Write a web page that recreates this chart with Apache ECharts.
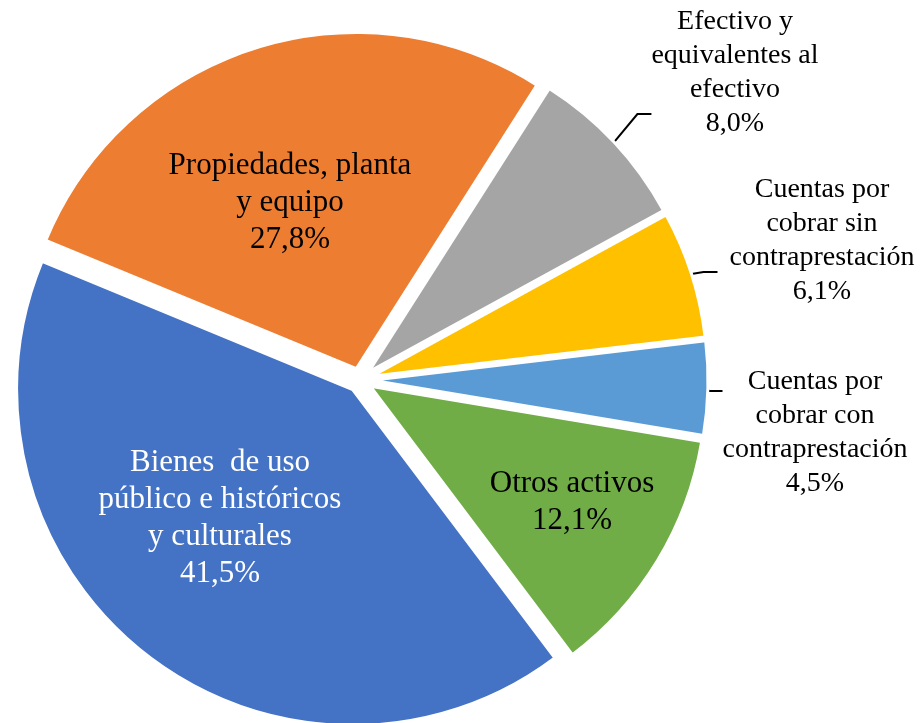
<!DOCTYPE html>
<html>
<head>
<meta charset="utf-8">
<script src="https://cdn.jsdelivr.net/npm/echarts@6/dist/echarts.min.js"></script>
<style>
  html, body { margin: 0; padding: 0; background: #fff; }
  #chart { width: 922px; height: 723px; }
</style>
</head>
<body>
<div id="chart"></div>
<script>
// slices in clockwise order starting at ~32 deg from 12 o'clock
const names = [
  'Efectivo y\nequivalentes al\nefectivo',
  'Cuentas por\ncobrar sin\ncontraprestación',
  'Cuentas por\ncobrar con\ncontraprestación',
  'Otros activos',
  'Bienes  de uso\npúblico e históricos\ny culturales',
  'Propiedades, planta\ny equipo'
]
const values = [8.0, 6.1, 4.5, 12.1, 41.5, 27.8]
const percentLabels = ['8,0%', '6,1%', '4,5%', '12,1%', '41,5%', '27,8%']
const colors = ['#A5A5A5', '#FFC000', '#5B9BD5', '#70AD47', '#4472C4', '#ED7D31']
const outside = [true, true, true, false, false, false]

// label anchors (px): outside labels are top-aligned, inside ones centred.
// padding moves the middle/left of the label box, where the leader line ends
const labelPos = [[735, 5], [816, 173], [815, 281], [572, 502], [220, 518], [290, 203]]
const labelPad = [[0, 0, 82, 0], [0, 0, 62, 12], [84, 0, 0, 0], 0, 0, 0]
const textColors = ['#000', '#000', '#000', '#000', '#fff', '#000']

const FONT = '"Liberation Serif", "Times New Roman", serif'
const CENTER = [360, 380]
const RADIUS = 336
const EXPLODE = 12
const START = 57.5

const chart = echarts.init(document.getElementById('chart'))

// exploded slices (all selected), no labels
const sliceData = values.map((v, i) => ({
  name: names[i],
  value: v,
  selected: true,
  itemStyle: { color: colors[i] }
}))

// invisible copy of the pie that carries the labels and leader lines
const labelData = values.map((v, i) => {
  const lbl = outside[i]
    ? { position: 'outside', fontSize: 28, lineHeight: 34, padding: labelPad[i], backgroundColor: 'rgba(255,255,255,0)' }
    : { position: 'inside', fontSize: 31, lineHeight: 37 }
  return {
    name: names[i],
    value: v,
    label: Object.assign({ color: textColors[i] }, lbl),
    labelLine: { show: outside[i] }
  }
})

const option = {
  animation: false,
  series: [
    {
      type: 'pie',
      center: CENTER,
      radius: RADIUS,
      startAngle: START,
      clockwise: true,
      selectedMode: 'multiple',
      selectedOffset: EXPLODE,
      silent: true,
      itemStyle: { borderColor: '#fff', borderWidth: 3 },
      select: { itemStyle: { borderColor: '#fff', borderWidth: 3 } },
      emphasis: { disabled: true },
      label: { show: false },
      labelLine: { show: false },
      data: sliceData
    },
    {
      type: 'pie',
      center: CENTER,
      radius: RADIUS + EXPLODE,
      startAngle: START,
      clockwise: true,
      avoidLabelOverlap: false,
      silent: true,
      itemStyle: { color: 'rgba(0,0,0,0)', borderWidth: 0 },
      emphasis: { disabled: true },
      label: {
        show: true,
        fontFamily: FONT,
        align: 'center',
        formatter: p => p.name + '\n' + percentLabels[p.dataIndex]
      },
      labelLine: {
        length: 15,
        length2: 14,
        lineStyle: { color: '#000', width: 2 }
      },
      labelLayout: p => ({
        x: labelPos[p.dataIndex][0],
        y: labelPos[p.dataIndex][1],
        align: 'center',
        verticalAlign: outside[p.dataIndex] ? 'top' : 'middle'
      }),
      data: labelData
    }
  ]
}
chart.setOption(option)
</script>
</body>
</html>
